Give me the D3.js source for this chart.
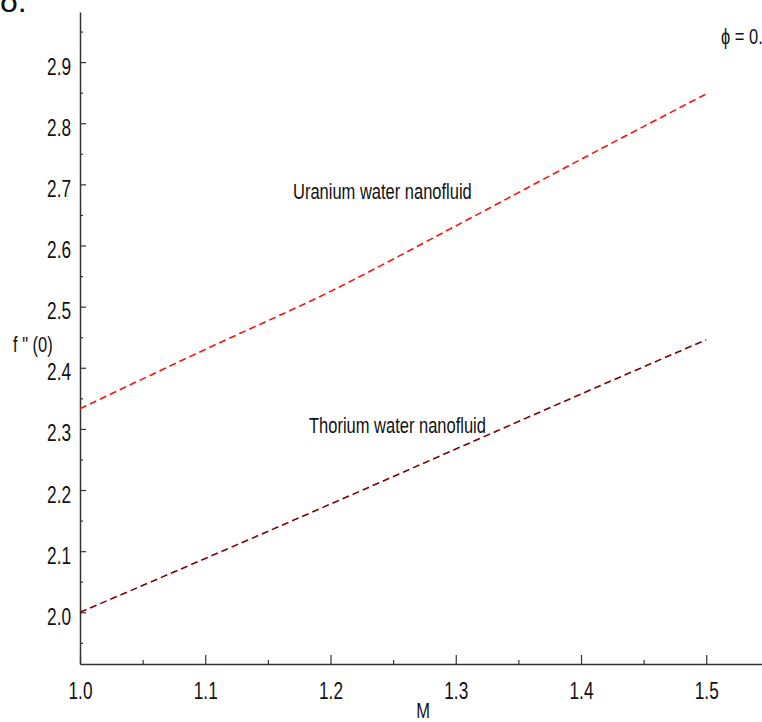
<!DOCTYPE html>
<html>
<head>
<meta charset="utf-8">
<script src="https://cdn.jsdelivr.net/npm/d3@7"></script>
<style>
  body { margin: 0; background: #fff; }
  svg text { font-family: "Liberation Sans", Arial, sans-serif; fill: #111; }
</style>
</head>
<body>
<div id="chart"></div>
<script>
// values
var mValues = [1.0, 1.1, 1.2, 1.3, 1.4, 1.5];
var uranium = [2.333, 2.430, 2.525, 2.632, 2.741, 2.848];
var thorium = [2.000, 2.088, 2.177, 2.267, 2.357, 2.446];
var xTicks = [1.0, 1.1, 1.2, 1.3, 1.4, 1.5];
var yTicks = [2.0, 2.1, 2.2, 2.3, 2.4, 2.5, 2.6, 2.7, 2.8, 2.9];
var seriesNames = ["Uranium water nanofluid", "Thorium water nanofluid"];

var width = 762, height = 722;
var fontSize = 22;
var tickFont = 23;
var squeeze = 0.75; // the original uses a narrow face

var x = d3.scaleLinear().domain([1.0, 1.5445]).range([80, 762]);
var y = d3.scaleLinear().domain([1.9154, 2.982]).range([664, 12]);

var svg = d3.select("#chart").append("svg")
    .attr("width", width)
    .attr("height", height);

function narrowText(px, py, str, anchor) {
  return svg.append("text")
      .attr("transform", "translate(" + px + "," + py + ") scale(" + squeeze + ",1)")
      .attr("text-anchor", anchor || "start")
      .attr("font-size", fontSize)
      .text(str);
}

// minor ticks
var xMinor = d3.range(1.05, 1.55, 0.1);
var yMinor = d3.range(1.95, 2.96, 0.1);

svg.append("g")
    .attr("transform", "translate(0,664)")
    .call(d3.axisBottom(x).tickValues(xMinor).tickFormat("").tickSizeInner(-4).tickSizeOuter(0))
    .call(g => g.select(".domain").remove());
svg.append("g")
    .attr("transform", "translate(80,0)")
    .call(d3.axisLeft(y).tickValues(yMinor).tickFormat("").tickSizeInner(-3).tickSizeOuter(0))
    .call(g => g.select(".domain").remove());

var xAxis = svg.append("g")
    .attr("transform", "translate(0,664)")
    .call(d3.axisBottom(x).tickValues(xTicks).tickFormat(d3.format(".1f")).tickSizeInner(-9).tickSizeOuter(0));
xAxis.selectAll("text")
    .attr("x", 0).attr("y", 35).attr("dy", 0)
    .attr("transform", "scale(" + squeeze + ",1)")
    .attr("font-size", tickFont);

var yAxis = svg.append("g")
    .attr("transform", "translate(80,0)")
    .call(d3.axisLeft(y).tickValues(yTicks).tickFormat(d3.format(".1f")).tickSizeInner(-6).tickSizeOuter(0));
yAxis.selectAll("text")
    .attr("x", -9 / squeeze).attr("dy", 12)
    .attr("transform", "scale(" + squeeze + ",1)")
    .attr("font-size", tickFont);

svg.selectAll(".domain").attr("stroke", "#333").attr("stroke-width", 1.5);
svg.selectAll(".tick line").attr("stroke", "#333").attr("stroke-width", 1.2);
svg.selectAll(".tick text").attr("fill", "#111").attr("font-family", null);

// curves
var line = d3.line()
    .x((d, i) => x(mValues[i]))
    .y(d => y(d))
    .curve(d3.curveMonotoneX);

svg.append("path")
    .datum(uranium)
    .attr("d", line)
    .attr("fill", "none")
    .attr("stroke", "#ff1010")
    .attr("stroke-width", 1.6)
    .attr("stroke-dasharray", "7,4");

svg.append("path")
    .datum(thorium)
    .attr("d", line)
    .attr("fill", "none")
    .attr("stroke", "#800000")
    .attr("stroke-width", 1.6)
    .attr("stroke-dasharray", "7,4");

// labels
narrowText(293, 199, seriesNames[0]);
narrowText(309, 433, seriesNames[1]);
narrowText(13, 352, "f \" (0)");
narrowText(423, 718, "M", "middle");
narrowText(721, 44, "\u03d5 = 0.");

// clipped figure mark at the top-left
svg.append("text")
    .attr("x", 0).attr("y", 12)
    .attr("font-size", 32)
    .text("\u03b4.");
</script>
</body>
</html>
